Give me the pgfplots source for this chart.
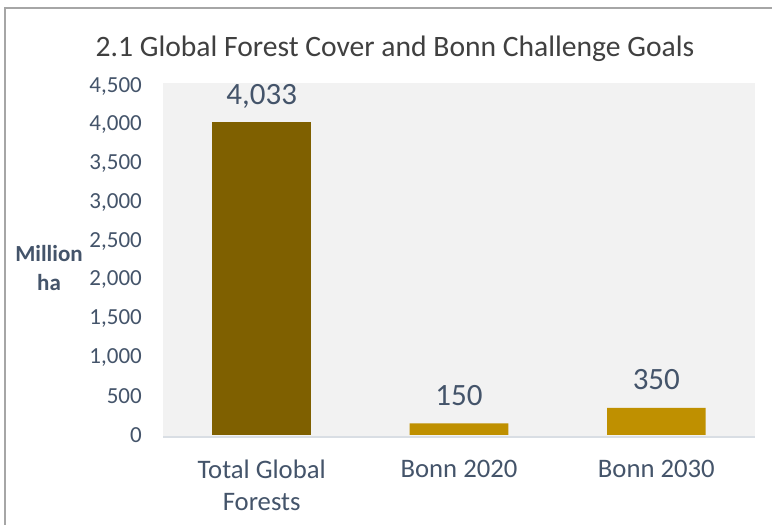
\documentclass[border=0pt]{standalone}
\usepackage{pgfplots}
\pgfplotsset{compat=1.18}
\usepackage{fontspec}
\setmainfont{Carlito}
\definecolor{txt}{HTML}{44546A}
\definecolor{ttl}{HTML}{404040}
\definecolor{darkbar}{HTML}{7F6000}
\definecolor{goldbar}{HTML}{BF9000}
\definecolor{plotbg}{HTML}{F2F2F2}
\definecolor{axln}{HTML}{D9DEE4}
\definecolor{frame}{HTML}{A6A6A6}
\begin{document}
\begin{tikzpicture}[x=1bp,y=1bp]
\useasboundingbox (0,0) rectangle (772,-525);
\fill[white] (0,0) rectangle (772,-525);
\draw[frame, line width=1.5bp] (5,-525) -- (5,-8) -- (772,-8);
\node[anchor=base, text=ttl, inner sep=0pt, font=\fontsize{29.6bp}{34bp}\selectfont] at (395,-57) {2.1 Global Forest Cover and Bonn Challenge Goals};
\node[anchor=base, text=txt, inner sep=0pt, font=\fontsize{23bp}{28bp}\selectfont\bfseries] at (49,-262) {Million};
\node[anchor=base, text=txt, inner sep=0pt, font=\fontsize{23bp}{28bp}\selectfont\bfseries] at (49,-291) {ha};
\begin{axis}[
  at={(163bp,-437bp)}, anchor=south west,
  scale only axis, width=592bp, height=354bp,
  ymin=-26, ymax=4539,
  xmin=-0.5, xmax=2.5,
  xtick={0,1,2},
  xticklabels={{Total Global\\Forests},{Bonn 2020},{Bonn 2030}},
  ytick={0,500,...,4500},
  major tick length=0pt,
  axis background/.style={fill=plotbg},
  axis x line*=bottom, axis y line*=left,
  x axis line style={draw=axln, line width=1.5bp, -},
  y axis line style={draw=none},
  /pgf/number format/.cd, 1000 sep={,}, assume math mode=true,
  /pgfplots/.cd,
  yticklabel style={text=txt, inner sep=0pt, anchor=east, xshift=-21bp, font=\fontsize{23bp}{28bp}\selectfont},
  xticklabel style={text=txt, inner sep=0pt, anchor=north, yshift=-23bp, align=center, font=\fontsize{26.7bp}{32bp}\selectfont},
  ybar, bar width=0.5, bar shift=0pt,
  nodes near coords,
  every node near coord/.append style={text=txt, anchor=base, inner sep=0pt, yshift=18bp, font=\fontsize{31bp}{36bp}\selectfont},
]
\addplot[fill=darkbar, draw=none] coordinates {(0,4033)};
\addplot[fill=goldbar, draw=none] coordinates {(1,150) (2,350)};
\end{axis}
\end{tikzpicture}
\end{document}
